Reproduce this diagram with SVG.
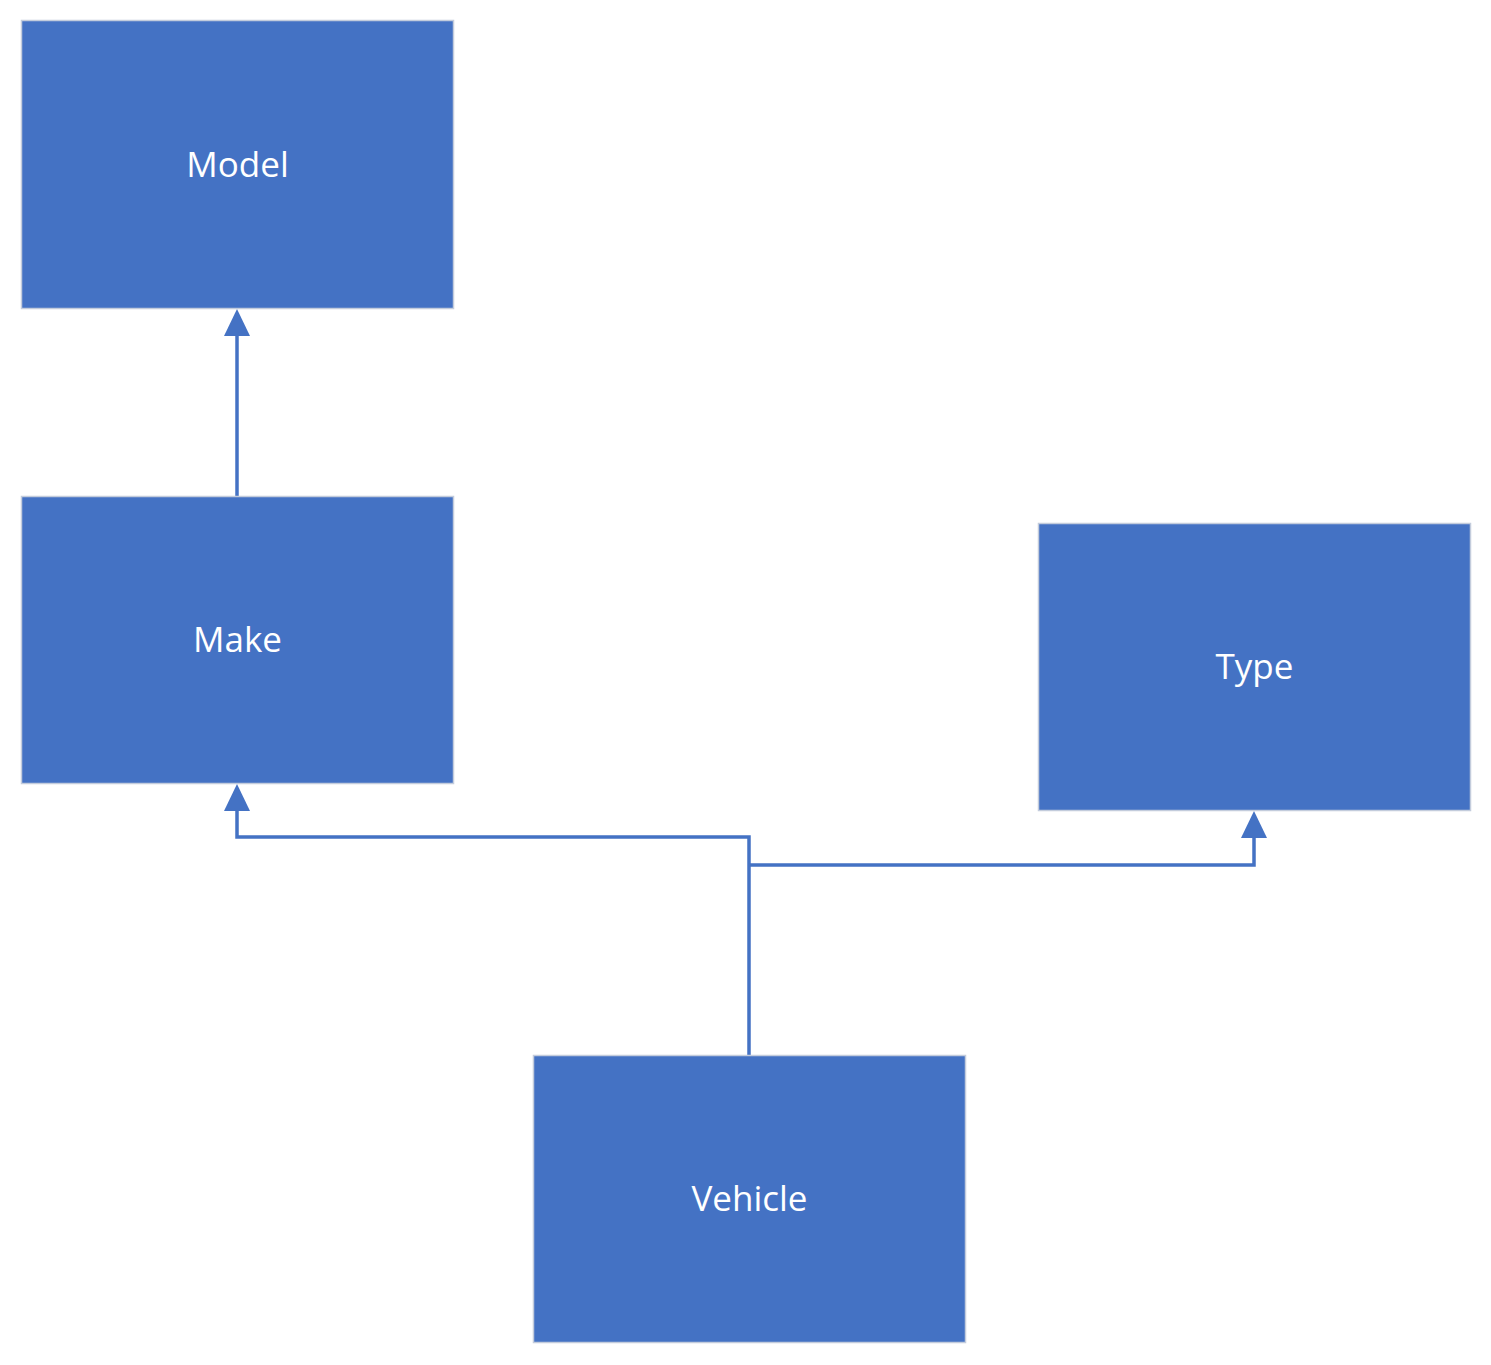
<svg xmlns="http://www.w3.org/2000/svg" width="1491" height="1365" viewBox="0 0 1491 1365">
  <style>
    .box { fill: #4472C4; stroke: #C3CCDC; stroke-width: 1.5; }
    .label { fill: #FFFFFF; font-family: "Open Sans", "Noto Sans", "Liberation Sans", sans-serif; font-size: 35px; text-anchor: middle; }
    .link { fill: none; stroke: #4472C4; stroke-width: 3.5; stroke-linejoin: miter; }
    .head { fill: #4472C4; }
  </style>
  <rect width="1491" height="1365" fill="#FFFFFF"/>

  <g id="connectors">
    <!-- Make -> Model -->
    <path class="link" d="M237 496 V334"/>
    <polygon class="head" points="237,309 250,336 224,336"/>
    <!-- Vehicle -> Make -->
    <path class="link" d="M749 1055 V837 H237 V808"/>
    <polygon class="head" points="237,784 250,811 224,811"/>
    <!-- Vehicle -> Type -->
    <path class="link" d="M749 865 H1254 V836"/>
    <polygon class="head" points="1254,811 1267,838 1241,838"/>
  </g>

  <g id="model">
    <rect class="box" x="21.5" y="20.5" width="432" height="288"/>
    <text class="label" x="237.5" y="177">Model</text>
  </g>
  <g id="make">
    <rect class="box" x="21.5" y="496.5" width="432" height="287"/>
    <text class="label" x="237.5" y="652">Make</text>
  </g>
  <g id="type">
    <rect class="box" x="1038.5" y="523.5" width="432" height="287"/>
    <text class="label" x="1254.5" y="679">Type</text>
  </g>
  <g id="vehicle">
    <rect class="box" x="533.5" y="1055.5" width="432" height="287"/>
    <text class="label" x="749.5" y="1211">Vehicle</text>
  </g>
</svg>
